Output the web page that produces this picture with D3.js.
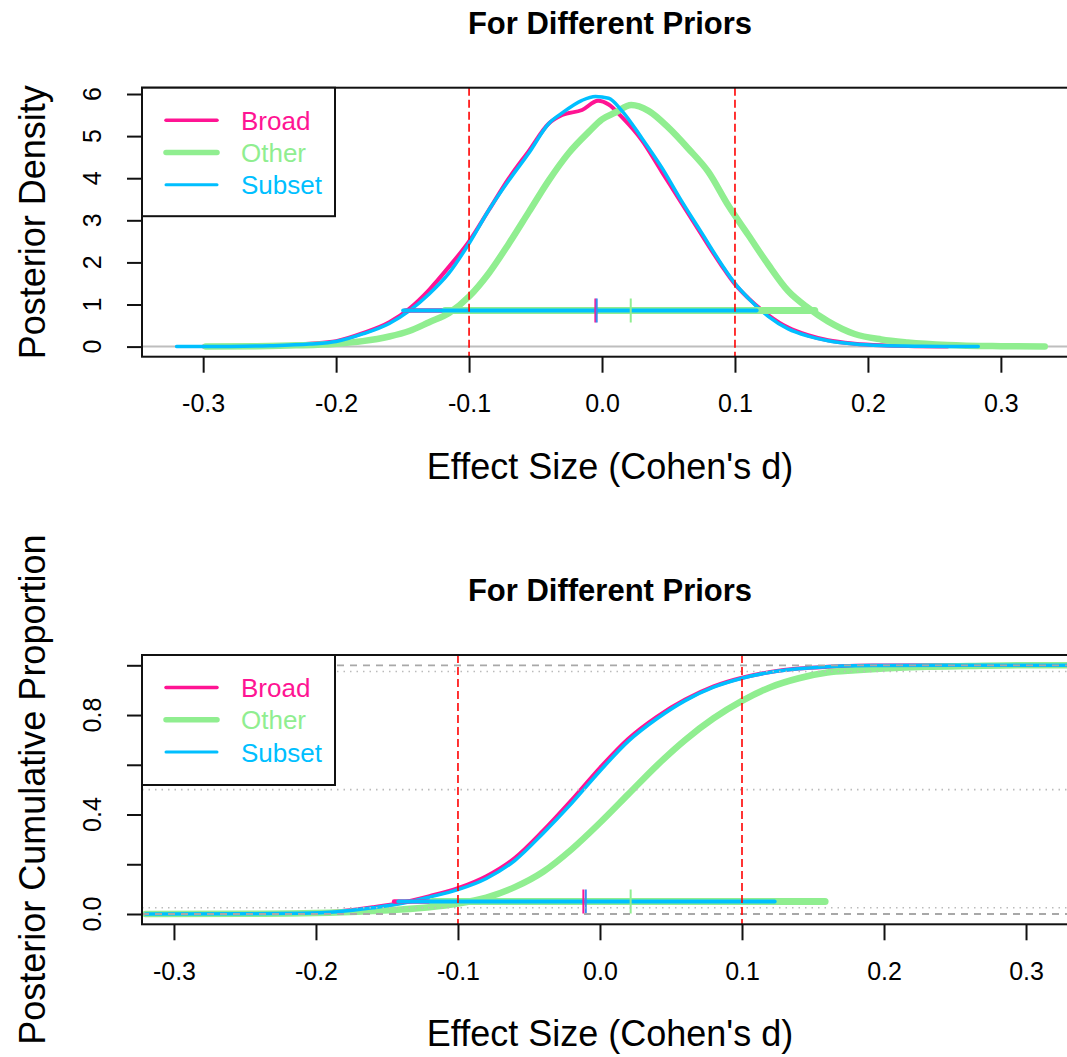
<!DOCTYPE html>
<html>
<head>
<meta charset="utf-8">
<script src="https://cdn.jsdelivr.net/npm/d3@7"></script>
<style>
  html, body { margin: 0; padding: 0; background: #fff; }
  svg { display: block; font-family: "Liberation Sans", Arial, sans-serif; }
</style>
</head>
<body>
<svg id="chart" width="1067" height="1057"></svg>
<script>
// ---- Series names and colours ----
const seriesNames = ["Broad", "Other", "Subset"];
const seriesColors = ["#FF1493", "#90EE90", "#00BFFF"];

// ---- Posterior density (upper panel) ----
const broadDensX = [-0.30, -0.27, -0.24, -0.22, -0.2, -0.18, -0.16, -0.145, -0.13, -0.115, -0.1, -0.085, -0.07, -0.055, -0.04, -0.03, -0.015, -0.003, 0.005, 0.015, 0.03, 0.045, 0.06, 0.075, 0.09, 0.1, 0.11, 0.125, 0.14, 0.155, 0.17, 0.19, 0.21, 0.235, 0.26];
const broadDensY = [0, 0.01, 0.03, 0.07, 0.13, 0.32, 0.58, 0.9, 1.35, 1.9, 2.5, 3.25, 4.0, 4.65, 5.3, 5.5, 5.62, 5.84, 5.75, 5.45, 4.9, 4.15, 3.4, 2.65, 1.92, 1.48, 1.15, 0.75, 0.45, 0.27, 0.15, 0.07, 0.03, 0.01, 0];

const otherDensX = [-0.298, -0.26, -0.23, -0.2, -0.18, -0.16, -0.145, -0.13, -0.115, -0.1, -0.085, -0.07, -0.055, -0.04, -0.025, -0.01, 0.0, 0.01, 0.022, 0.035, 0.05, 0.065, 0.08, 0.095, 0.11, 0.125, 0.14, 0.155, 0.17, 0.19, 0.21, 0.23, 0.26, 0.3, 0.333];
const otherDensY = [0, 0.01, 0.03, 0.07, 0.13, 0.24, 0.37, 0.58, 0.8, 1.19, 1.75, 2.45, 3.2, 3.95, 4.6, 5.1, 5.4, 5.56, 5.74, 5.6, 5.2, 4.7, 4.15, 3.35, 2.65, 1.95, 1.32, 0.92, 0.6, 0.3, 0.17, 0.1, 0.04, 0.01, 0];

const subsetDensX = [-0.32, -0.28, -0.25, -0.22, -0.2, -0.18, -0.16, -0.145, -0.13, -0.115, -0.1, -0.085, -0.07, -0.055, -0.04, -0.03, -0.015, -0.005, 0.005, 0.015, 0.03, 0.045, 0.06, 0.075, 0.09, 0.1, 0.11, 0.125, 0.14, 0.155, 0.17, 0.19, 0.21, 0.24, 0.283];
const subsetDensY = [0, 0.005, 0.02, 0.06, 0.12, 0.3, 0.55, 0.85, 1.25, 1.75, 2.45, 3.25, 3.95, 4.6, 5.3, 5.55, 5.85, 5.94, 5.9, 5.6, 4.95, 4.25, 3.45, 2.7, 1.95, 1.5, 1.15, 0.72, 0.42, 0.25, 0.14, 0.06, 0.025, 0.008, 0];

// HDI limits and central marks for the density panel
const densHdiLow  = [-0.148, -0.118, -0.1496];
const densHdiHigh = [0.118, 0.160, 0.1163];
const densCenter  = [-0.005, 0.0216, -0.004];
const densHdiLevel = 0.86;

// ---- Posterior cumulative proportion (lower panel) ----
const broadCumX = [-0.32, -0.25, -0.21, -0.185, -0.16, -0.14, -0.12, -0.1, -0.08, -0.06, -0.04, -0.02, 0.0, 0.02, 0.04, 0.06, 0.08, 0.1, 0.12, 0.14, 0.16, 0.18, 0.2, 0.25, 0.3, 0.34];
const broadCumY = [0, 0.001, 0.004, 0.01, 0.027, 0.045, 0.072, 0.104, 0.152, 0.225, 0.335, 0.458, 0.588, 0.705, 0.793, 0.862, 0.915, 0.95, 0.973, 0.987, 0.994, 0.998, 0.999, 1, 1, 1];

const otherCumX = [-0.32, -0.25, -0.2, -0.16, -0.14, -0.12, -0.1, -0.08, -0.06, -0.04, -0.02, 0.0, 0.02, 0.04, 0.06, 0.08, 0.1, 0.12, 0.14, 0.16, 0.18, 0.2, 0.23, 0.26, 0.3, 0.34];
const otherCumY = [0, 0.001, 0.004, 0.012, 0.018, 0.027, 0.042, 0.066, 0.108, 0.17, 0.26, 0.367, 0.482, 0.597, 0.7, 0.787, 0.857, 0.912, 0.948, 0.971, 0.98, 0.987, 0.994, 0.997, 1, 1];

const subsetCumX = [-0.32, -0.25, -0.21, -0.185, -0.16, -0.14, -0.12, -0.1, -0.08, -0.06, -0.04, -0.02, 0.0, 0.02, 0.04, 0.06, 0.08, 0.1, 0.12, 0.14, 0.16, 0.18, 0.2, 0.25, 0.3, 0.34];
const subsetCumY = [0, 0.001, 0.003, 0.009, 0.025, 0.042, 0.068, 0.098, 0.143, 0.215, 0.325, 0.445, 0.575, 0.695, 0.785, 0.858, 0.912, 0.948, 0.972, 0.986, 0.994, 0.998, 0.999, 1, 1, 1];

const cumHdiLow  = [-0.145, -0.118, -0.142];
const cumHdiHigh = [0.118, 0.1585, 0.123];
const cumCenter  = [-0.0117, 0.0216, -0.010];
const cumHdiLevel = 0.05;
const cumDashed = [0, 1];
const cumDotted = [0.025, 0.5, 0.975];

// ---- Shared axis settings ----
const ropeBounds = [-0.1, 0.1];
const xTickValues = [-0.3, -0.2, -0.1, 0.0, 0.1, 0.2, 0.3];
const xTickLabels = ["-0.3", "-0.2", "-0.1", "0.0", "0.1", "0.2", "0.3"];
const densTickValues = [0, 1, 2, 3, 4, 5, 6];
const densTickLabels = ["0", "1", "2", "3", "4", "5", "6"];
const cumTickValues = [0, 0.2, 0.4, 0.6, 0.8, 1.0];
const cumTickLabels = ["0.0", "", "0.4", "", "0.8", ""];

const titleText = "For Different Priors";
const xTitle = "Effect Size (Cohen's d)";

// ---- Drawing ----
const svg = d3.select("#chart");
const widths = [4, 6.5, 3.5];
const legendWidths = [3.5, 5.5, 3];

function zip(xs, ys) { return xs.map((x, i) => ({x, y: ys[i]})); }

function panel(cfg) {
  const g = svg.append("g");
  const x = d3.scaleLinear().domain(cfg.xDomain).range([cfg.left, cfg.right]);
  const y = d3.scaleLinear().domain(cfg.yDomain).range([cfg.bottom, cfg.top]);
  const clipId = "clip-" + cfg.id;
  svg.append("clipPath").attr("id", clipId)
    .append("rect").attr("x", cfg.left).attr("y", cfg.top)
    .attr("width", cfg.right - cfg.left).attr("height", cfg.bottom - cfg.top);
  const plot = g.append("g").attr("clip-path", `url(#${clipId})`);

  if (cfg.zeroLine) {
    plot.append("line")
      .attr("x1", cfg.left).attr("x2", cfg.right)
      .attr("y1", y(0)).attr("y2", y(0))
      .attr("stroke", "#BEBEBE").attr("stroke-width", 2);
  }

  const line = d3.line().x(d => x(d.x)).y(d => y(d.y)).curve(d3.curveMonotoneX);
  cfg.series.forEach((s, i) => {
    plot.append("path").datum(s)
      .attr("d", line).attr("fill", "none")
      .attr("stroke", seriesColors[i]).attr("stroke-width", widths[i])
      .attr("stroke-linejoin", "round").attr("stroke-linecap", "round");
  });

  // HDI bars with central marks
  seriesNames.forEach((n, i) => {
    plot.append("line")
      .attr("x1", x(cfg.hdiLow[i])).attr("x2", x(cfg.hdiHigh[i]))
      .attr("y1", y(cfg.hdiLevel)).attr("y2", y(cfg.hdiLevel))
      .attr("stroke", seriesColors[i]).attr("stroke-width", widths[i] + 0.5)
      .attr("stroke-linecap", "round");
  });
  seriesNames.forEach((n, i) => {
    plot.append("line")
      .attr("x1", x(cfg.center[i])).attr("x2", x(cfg.center[i]))
      .attr("y1", y(cfg.hdiLevel) - 12).attr("y2", y(cfg.hdiLevel) + 12)
      .attr("stroke", i === 2 ? "#3A8CF0" : seriesColors[i]).attr("stroke-width", 2);
  });

  // reference lines
  (cfg.dashed || []).forEach(v => {
    plot.append("line").attr("x1", cfg.left).attr("x2", cfg.right)
      .attr("y1", y(v)).attr("y2", y(v))
      .attr("stroke", "#A8A8A8").attr("stroke-width", 1.8).attr("stroke-dasharray", "7,6");
  });
  (cfg.dotted || []).forEach(v => {
    plot.append("line").attr("x1", cfg.left).attr("x2", cfg.right)
      .attr("y1", y(v)).attr("y2", y(v))
      .attr("stroke", "#BBBBBB").attr("stroke-width", 1.6).attr("stroke-dasharray", "1.5,5");
  });
  ropeBounds.forEach(v => {
    plot.append("line").attr("x1", x(v)).attr("x2", x(v))
      .attr("y1", cfg.top).attr("y2", cfg.bottom)
      .attr("stroke", "#FF0000").attr("stroke-width", 1.6).attr("stroke-dasharray", "8,4");
  });

  // box
  g.append("rect").attr("x", cfg.left).attr("y", cfg.top)
    .attr("width", cfg.right - cfg.left).attr("height", cfg.bottom - cfg.top)
    .attr("fill", "none").attr("stroke", "#111").attr("stroke-width", 2);

  // x axis
  const xAxis = d3.axisBottom(x).tickValues(xTickValues).tickSize(16).tickPadding(22)
    .tickFormat((d, i) => xTickLabels[i]);
  const xa = g.append("g").attr("transform", `translate(0,${cfg.bottom})`).call(xAxis);
  xa.select(".domain").remove();
  xa.selectAll(".tick line").attr("stroke", "#111").attr("stroke-width", 2);
  xa.selectAll(".tick text").attr("font-size", 25).attr("fill", "#000")
    .attr("font-family", "Liberation Sans, Arial, sans-serif");

  // y axis
  const yAxis = d3.axisLeft(y).tickValues(cfg.yTicks).tickSize(15).tickFormat("");
  const ya = g.append("g").attr("transform", `translate(${cfg.left},0)`).call(yAxis);
  ya.select(".domain").remove();
  ya.selectAll(".tick line").attr("stroke", "#111").attr("stroke-width", 2);
  cfg.yTicks.forEach((v, i) => {
    if (!cfg.yLabels[i]) return;
    g.append("text")
      .attr("transform", `translate(101,${y(v)}) rotate(-90)`)
      .attr("text-anchor", "middle").attr("font-size", 25).attr("fill", "#000")
      .text(cfg.yLabels[i]);
  });

  // titles
  const cx = (cfg.left + cfg.right) / 2;
  g.append("text").attr("x", cx).attr("y", cfg.top - 54)
    .attr("text-anchor", "middle").attr("font-size", 31).attr("font-weight", "bold")
    .text(titleText);
  g.append("text").attr("x", cx).attr("y", cfg.bottom + 122)
    .attr("text-anchor", "middle").attr("font-size", 36).text(xTitle);
  g.append("text")
    .attr("transform", `translate(45,${(cfg.top + cfg.bottom) / 2}) rotate(-90)`)
    .attr("text-anchor", "middle").attr("font-size", 36).text(cfg.yTitle);

  // legend
  const lg = g.append("g");
  lg.append("rect").attr("x", cfg.left).attr("y", cfg.top)
    .attr("width", 193).attr("height", cfg.legendH)
    .attr("fill", "#fff").attr("stroke", "#111").attr("stroke-width", 2);
  seriesNames.forEach((n, i) => {
    const ly = cfg.top + 32.5 + i * 32.3;
    lg.append("line").attr("x1", cfg.left + 24).attr("x2", cfg.left + 75)
      .attr("y1", ly).attr("y2", ly)
      .attr("stroke", seriesColors[i]).attr("stroke-width", legendWidths[i])
      .attr("stroke-linecap", "round");
    lg.append("text").attr("x", cfg.left + 99).attr("y", ly + 9.5)
      .attr("font-size", 26).attr("fill", seriesColors[i]).text(n);
  });
}

panel({
  id: "dens",
  left: 142, right: 1078, top: 87.7, bottom: 356.7,
  xDomain: [-0.346, 0.358], yDomain: [-0.24, 6.15],
  series: [zip(broadDensX, broadDensY), zip(otherDensX, otherDensY), zip(subsetDensX, subsetDensY)],
  hdiLow: densHdiLow, hdiHigh: densHdiHigh, center: densCenter, hdiLevel: densHdiLevel,
  zeroLine: true,
  yTicks: densTickValues, yLabels: densTickLabels,
  yTitle: "Posterior Density",
  legendH: 128.5
});

panel({
  id: "cum",
  left: 142, right: 1078, top: 655, bottom: 924.3,
  xDomain: [-0.3225, 0.3366], yDomain: [-0.0414, 1.0414],
  series: [zip(broadCumX, broadCumY), zip(otherCumX, otherCumY), zip(subsetCumX, subsetCumY)],
  hdiLow: cumHdiLow, hdiHigh: cumHdiHigh, center: cumCenter, hdiLevel: cumHdiLevel,
  dashed: cumDashed, dotted: cumDotted,
  yTicks: cumTickValues, yLabels: cumTickLabels,
  yTitle: "Posterior Cumulative Proportion",
  legendH: 130
});
</script>
</body>
</html>
